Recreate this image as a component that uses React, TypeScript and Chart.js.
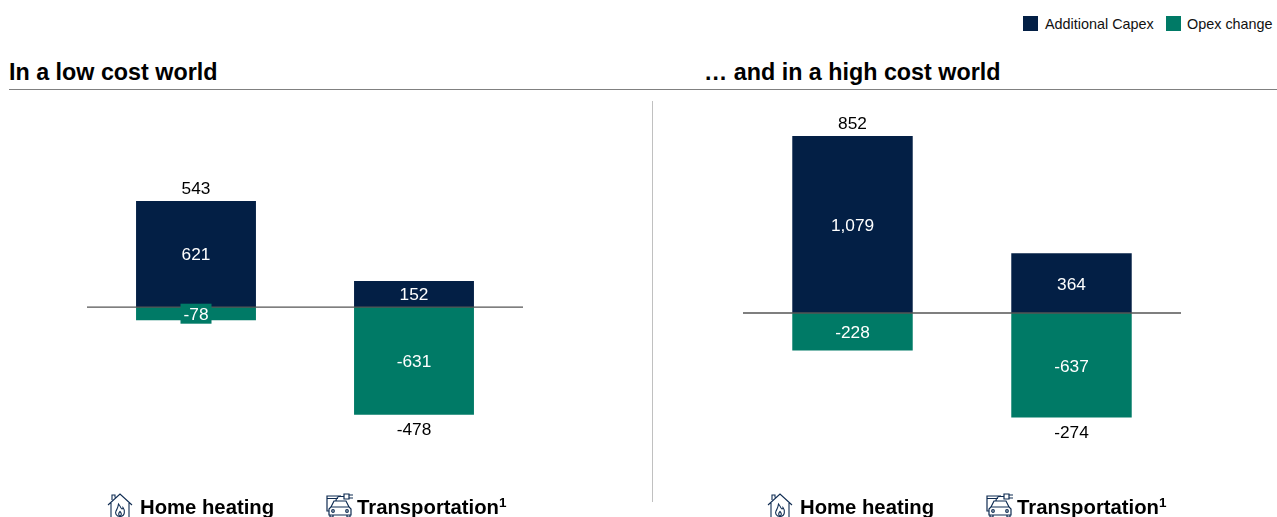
import React, { useEffect, useRef } from "react";
import { Chart, registerables } from "chart.js";

Chart.register(...registerables);

const NAVY = "#031f45";
const GREEN = "#007a66";
const FONT = "'Liberation Sans', Arial, sans-serif";
const ICON = "#0f2c52";

const categories = ["Home heating", "Transportation"];
const footnotes = ["", "1"];
const lowCapex = [621, 152];
const lowOpex = [-78, -631];
const lowTotals = [543, -478];
const highCapex = [1079, 364];
const highOpex = [-228, -637];
const highTotals = [852, -274];
const seriesNames = ["Additional Capex", "Opex change"];

const fmt = (v: number) => v.toLocaleString("en-US");

const annotate = (totals: number[], labelShift: number[]) => ({
  id: "annotate",
  afterDatasetsDraw(chart: any) {
    const { ctx } = chart;
    const y = chart.scales.y;
    const x = chart.scales.x;
    const zero = y.getPixelForValue(0);
    ctx.save();
    ctx.strokeStyle = "#555555";
    ctx.lineWidth = 1.3;
    ctx.beginPath();
    ctx.moveTo(chart.chartArea.left, zero);
    ctx.lineTo(chart.chartArea.right, zero);
    ctx.stroke();

    ctx.textAlign = "center";
    ctx.textBaseline = "middle";
    ctx.font = `17.3px ${FONT}`;
    chart.data.datasets.forEach((ds: any, di: number) => {
      chart.getDatasetMeta(di).data.forEach((bar: any, i: number) => {
        const v = ds.data[i];
        const cy = (bar.y + bar.base) / 2;
        const small = Math.abs(bar.y - bar.base) < 16;
        const text = fmt(v);
        if (small) {
          ctx.fillStyle = ds.backgroundColor;
          ctx.fillRect(bar.x - 15.5, cy - 10, 31, 20);
        }
        ctx.fillStyle = "#ffffff";
        ctx.fillText(text, bar.x, cy + 1.6);
      });
    });

    totals.forEach((t, i) => {
      const cx = x.getPixelForValue(i);
      const edge = chart.getDatasetMeta(t >= 0 ? 0 : 1).data[i].y;
      ctx.fillStyle = "#000000";
      ctx.fillText(fmt(t), cx, t >= 0 ? edge - 12 : edge + 15.4);
    });

    ctx.textAlign = "left";
    categories.forEach((c, i) => {
      const left = x.getPixelForValue(i) + labelShift[i];
      ctx.fillStyle = "#000000";
      ctx.font = `bold 20.3px ${FONT}`;
      ctx.fillText(c, left, 407);
      if (footnotes[i]) {
        const w = ctx.measureText(c).width;
        ctx.font = `bold 13.5px ${FONT}`;
        ctx.fillText(footnotes[i], left + w, 402);
      }
    });
    ctx.restore();
  },
});

function Panel(props: {
  left: number;
  width: number;
  capex: number[];
  opex: number[];
  totals: number[];
  min: number;
  max: number;
  labelShift: number[];
}) {
  const ref = useRef<HTMLCanvasElement>(null);
  useEffect(() => {
    const chart = new Chart(ref.current!, {
      type: "bar",
      data: {
        labels: categories,
        datasets: [
          { label: seriesNames[0], data: props.capex, backgroundColor: NAVY, stack: "s" },
          { label: seriesNames[1], data: props.opex, backgroundColor: GREEN, stack: "s" },
        ],
      },
      options: {
        animation: false,
        responsive: false,
        devicePixelRatio: 1,
        layout: { padding: 0 },
        plugins: { legend: { display: false }, tooltip: { enabled: false } },
        datasets: { bar: { barPercentage: 0.55, categoryPercentage: 1 } },
        scales: {
          x: { display: false, stacked: true },
          y: { display: false, stacked: true, min: props.min, max: props.max },
        },
      },
      plugins: [annotate(props.totals, props.labelShift)],
    } as any);
    return () => chart.destroy();
  }, []);
  return (
    <canvas
      ref={ref}
      width={props.width}
      height={416}
      style={{ position: "absolute", left: props.left, top: 101, width: props.width, height: 416 }}
    />
  );
}

const HouseIcon = ({ x }: { x: number }) => (
  <svg width="26" height="26" viewBox="0 0 26 26" style={{ position: "absolute", left: x, top: 493 }}
    fill="none" stroke={ICON} strokeWidth="1.1">
    <path d="M1 12 L13 1 L25 12 M4 10 V25 H22 V10 M5 7 V2 H8 V4.500" />
    <path d="M13 23.500 C9 23.500 8 20 9 18 C10 16 11 15 11.500 11 C14 14 14 16 15 16 C15.500 16 16 15 16 14.500 C18 17 18.500 23.500 13 23.500 Z" />
    <path d="M13 23.500 C11 22 11.500 20 13 18.500 C14.500 20 15 22 13 23.500 Z" />
  </svg>
);

const CarIcon = ({ x }: { x: number }) => (
  <svg width="28" height="26" viewBox="0 0 28 26" style={{ position: "absolute", left: x, top: 492 }}
    fill="none" stroke={ICON} strokeWidth="1.2">
    <path d="M3 19 H1 V4 H15 M1 6.500 H12 M18 2 L23 2 L23 7 L18 7 Z M23 3 H27 M23 6 H27 M18 4.500 H14 C10 4.500 10 9 10 9" />
    <path d="M8 9 H20 L23 15 L25 17 V23 H3 V17 L5 15 Z M5 15 H23" />
    <path d="M4 23 V25 H7 V23 M21 23 V25 H24 V23" />
    <circle cx="7" cy="19" r="1.300" />
    <circle cx="21" cy="19" r="1.300" />
  </svg>
);

const Swatch = ({ x, color }: { x: number; color: string }) => (
  <div style={{ position: "absolute", left: x, top: 16, width: 15, height: 15, background: color }} />
);

const textStyle = { position: "absolute", whiteSpace: "nowrap", fontFamily: FONT } as const;

export default function App() {
  return (
    <div style={{ position: "fixed", left: 0, top: 0, width: 1277, height: 517, overflow: "hidden", background: "#fff" }}>
      <Swatch x={1023} color={NAVY} />
      <div style={{ ...textStyle, left: 1045, top: 15, fontSize: 14.4, lineHeight: "18px", color: "#111" }}>{seriesNames[0]}</div>
      <Swatch x={1166} color={GREEN} />
      <div style={{ ...textStyle, left: 1187, top: 15, fontSize: 14.4, lineHeight: "18px", color: "#111" }}>{seriesNames[1]}</div>

      <div style={{ ...textStyle, left: 9, top: 59, fontSize: 23.3, lineHeight: "26px", fontWeight: 700, color: "#000" }}>In a low cost world</div>
      <div style={{ ...textStyle, left: 704, top: 59, fontSize: 23.3, lineHeight: "26px", fontWeight: 700, color: "#000" }}>… and in a high cost world</div>
      <div style={{ position: "absolute", left: 9, top: 88.5, width: 1268, height: 1.5, background: "#808080" }} />
      <div style={{ position: "absolute", left: 652, top: 101, width: 1, height: 401, background: "#c0c0c0" }} />

      <Panel left={87} width={436} capex={lowCapex} opex={lowOpex} totals={lowTotals} min={-1230} max={1207} labelShift={[-56, -57]} />
      <Panel left={743} width={438} capex={highCapex} opex={highOpex} totals={highTotals} min={-1244} max={1293} labelShift={[-52.5, -54.5]} />

      <HouseIcon x={107} />
      <CarIcon x={326} />
      <HouseIcon x={767} />
      <CarIcon x={986} />
    </div>
  );
}
